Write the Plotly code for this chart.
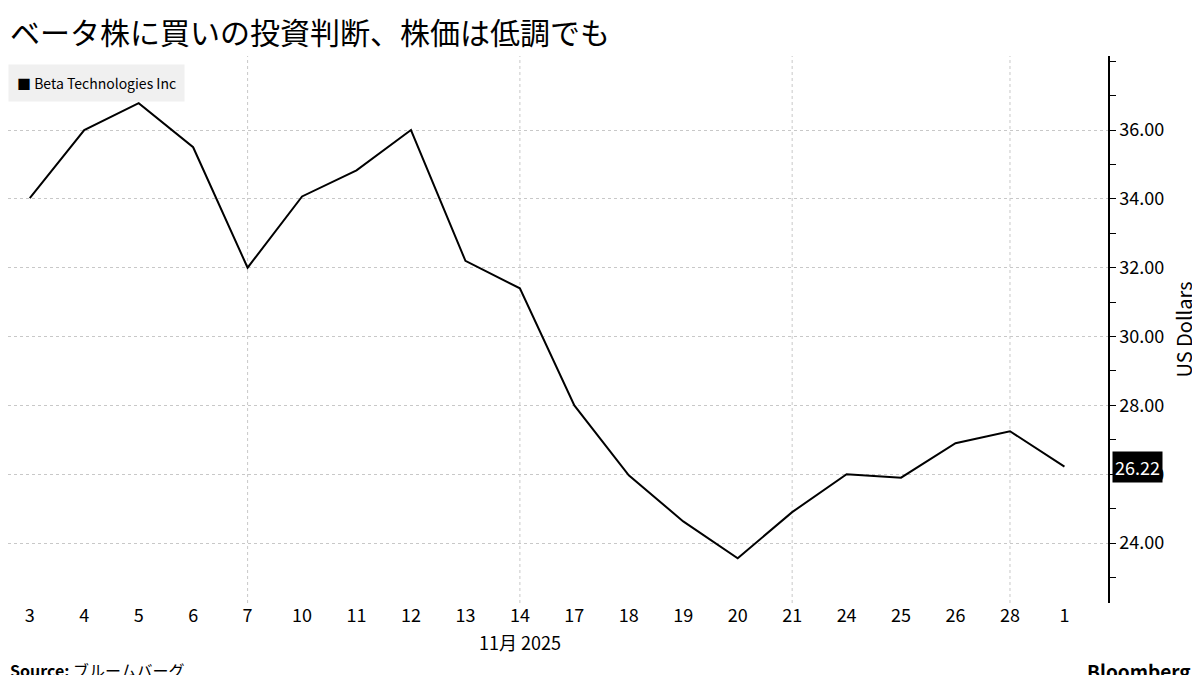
import plotly.graph_objects as go

# 取引日（2025年11月3日〜12月1日）
days = ['3', '4', '5', '6', '7', '10', '11', '12', '13', '14',
        '17', '18', '19', '20', '21', '24', '25', '26', '28', '1']
prices = [34.02, 36.00, 36.78, 35.50, 32.00, 34.07, 34.83, 36.00, 32.20, 31.40,
          28.00, 25.97, 24.63, 23.56, 24.90, 26.00, 25.90, 26.90, 27.25, 26.22]
week_marks = ['7', '14', '21', '28']
y_ticks = [24, 26, 28, 30, 32, 34, 36]

idx = list(range(len(days)))
font = 'Noto Sans CJK JP, DejaVu Sans'

fig = go.Figure()
fig.add_trace(go.Scatter(x=idx, y=prices, mode='lines', name='Beta Technologies Inc',
                         line=dict(color='black', width=2), showlegend=False))

# 週区切りの縦グリッド
for d in week_marks:
    fig.add_vline(x=days.index(d), line=dict(color='#c8c8c8', width=1, dash='dot'), layer='below')

fig.update_layout(
    width=1200, height=675, margin=dict(l=0, r=100, t=48, b=80),
    plot_bgcolor='white', paper_bgcolor='white',
    font=dict(family=font, size=17, color='black'),
    xaxis=dict(range=[-0.4, 19.8], tickvals=idx, ticktext=days, showgrid=False,
               zeroline=False, ticks='', tickfont=dict(size=18)),
    yaxis=dict(side='right', range=[22.26, 38.15], tickvals=y_ticks,
               ticktext=[f'{v:.2f}' for v in y_ticks], showgrid=True, gridcolor='#c8c8c8',
               griddash='dot', zeroline=False, showline=True, linecolor='black', linewidth=1.5,
               ticks='outside', ticklen=6, tickcolor='black',
               minor=dict(dtick=1, ticks='outside', ticklen=6, tickcolor='black', showgrid=False),
               title=dict(text='US Dollars', font=dict(size=20)), tickfont=dict(size=18)),
)

fig.add_annotation(xref='paper', yref='paper', x=0.0, y=1, yshift=25, xanchor='left', yanchor='middle',
                   text='ベータ株に買いの投資判断、株価は低調でも', showarrow=False,
                   font=dict(size=30, color='black'))
fig.add_annotation(xref='paper', yref='paper', x=0.0, y=1, yshift=-8, xanchor='left', yanchor='top',
                   text='■ Beta Technologies Inc', showarrow=False, bgcolor='#f0f0f0',
                   borderpad=8, font=dict(size=14))
fig.add_annotation(xref='paper', y=prices[-1], x=1.0, xanchor='left', yanchor='middle',
                   text=f'{prices[-1]:.2f}', showarrow=False, bgcolor='black',
                   font=dict(size=18, color='white'), borderpad=2, xshift=4)
fig.add_annotation(xref='paper', yref='paper', x=0.465, y=0, yshift=-39, xanchor='center', yanchor='middle',
                   text='11月 2025', showarrow=False, font=dict(size=18))
fig.add_annotation(xref='paper', yref='paper', x=0.0, y=0, yshift=-67, xanchor='left', yanchor='middle',
                   text='<b>Source:</b> ブルームバーグ', showarrow=False, font=dict(size=16))
fig.add_annotation(xref='paper', yref='paper', x=1.09, y=0, yshift=-67, xanchor='right', yanchor='middle',
                   text='<b>Bloomberg</b> ▮', showarrow=False, font=dict(size=19))

fig.write_html('out.html')
